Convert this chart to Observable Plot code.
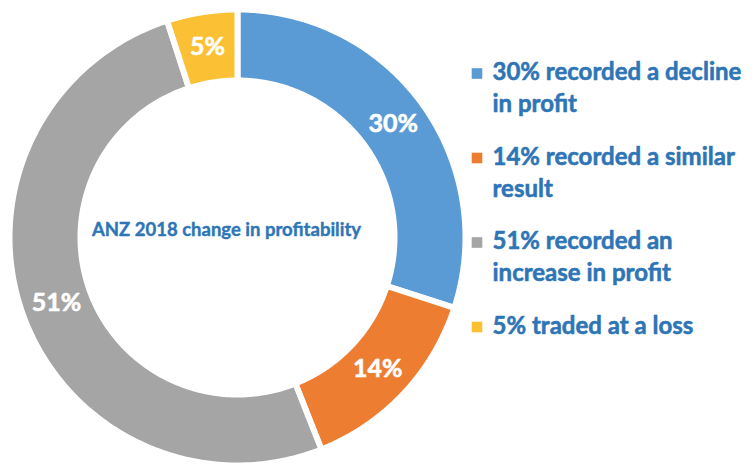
<!DOCTYPE html>
<html><head><meta charset="utf-8">
<script src="https://cdn.jsdelivr.net/npm/d3@7"></script>
<script src="https://cdn.jsdelivr.net/npm/@observablehq/plot@0.6"></script>
<style>body{margin:0;background:#fff;} svg{display:block;}</style>
</head><body><div id="chart"></div>
<script>
const categories = ["decline", "similar", "increase", "loss"];
const shares = [30, 14, 51, 5];
const sliceLabels = ["30%", "14%", "51%", "5%"];
const legendLabels = [
  "30% recorded a decline\nin profit",
  "14% recorded a similar\nresult",
  "51% recorded an\nincrease in profit",
  "5% traded at a loss"
];
const colors = ["#5B9BD5", "#ED7D31", "#A5A5A5", "#FBC033"];
const centerTitle = "ANZ 2018 change in profitability";

const W = 755, H = 468;
const cx = 237, cy = 237, rIn = 157, rOut = 228;
const textBlue = "#2E75B6";
const font = "Lato, 'Open Sans', sans-serif";

const arcs = d3.pie().sort(null).value(d => d)(shares);

const ring = [];
arcs.forEach((p, i) => {
  const n = 180, pts = [];
  for (let k = 0; k <= n; k++) pts.push([p.startAngle + (p.endAngle - p.startAngle) * k / n, rOut]);
  for (let k = n; k >= 0; k--) pts.push([p.startAngle + (p.endAngle - p.startAngle) * k / n, rIn]);
  pts.push(pts[0]);
  pts.forEach(([a, r]) => ring.push({cat: categories[i], x: cx + r * Math.sin(a), y: cy - r * Math.cos(a)}));
});

const rMid = (rIn + rOut) / 2;
const labels = arcs.map((p, i) => {
  const a = (p.startAngle + p.endAngle) / 2;
  return {label: sliceLabels[i], x: cx + rMid * Math.sin(a), y: cy - rMid * Math.cos(a)};
});

const legX = 476.5, legY0 = 73, legStep = 84.5;
const legend = categories.map((c, i) => ({cat: c, label: legendLabels[i], x: legX, y: legY0 + i * legStep}));

const chart = Plot.plot({
  width: W, height: H,
  margin: 0,
  x: {type: "identity", axis: null},
  y: {type: "identity", axis: null},
  color: {domain: categories, range: colors},
  style: {fontFamily: font, background: "#fff"},
  marks: [
    Plot.line(ring, {x: "x", y: "y", z: "cat", fill: "cat", stroke: "white", strokeWidth: 6, curve: "linear"}),
    Plot.text(labels, {x: "x", y: "y", text: "label", fill: "white", stroke: "white", strokeWidth: 0.6, fontSize: 25, fontWeight: "bold", fontFamily: font}),
    Plot.text([centerTitle], {x: cx - 11, y: cy - 7, text: d => d, fill: textBlue, stroke: textBlue, strokeWidth: 0.4, fontSize: 18.5, fontWeight: "bold", fontFamily: font}),
    Plot.dot(legend, {x: "x", y: "y", fill: "cat", symbol: "square", r: 6, stroke: null}),
    Plot.text(legend, {x: d => d.x + 15.5, y: d => d.y - 16, text: "label", textAnchor: "start", lineAnchor: "top", lineHeight: 1.333, fill: textBlue, stroke: textBlue, strokeWidth: 0.55, fontSize: 24, fontWeight: "bold", fontFamily: font})
  ]
});
document.getElementById("chart").appendChild(chart);
</script>
</body></html>
